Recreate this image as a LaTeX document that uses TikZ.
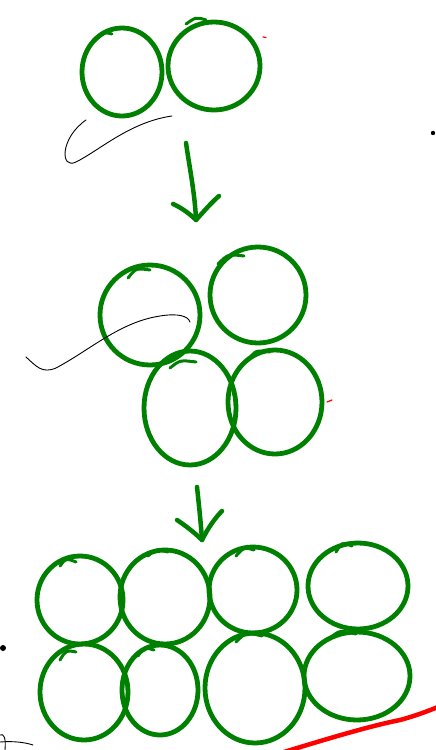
\documentclass[tikz,border=0pt]{standalone}
\definecolor{pen}{RGB}{0,128,0}
\definecolor{redpen}{RGB}{255,0,0}
\tikzset{
  bubble/.style={draw=pen, line width=4.8pt, line cap=round, line join=round},
  hook/.style={draw=pen, line width=3pt, line cap=round},
  thin/.style={draw=black, line width=0.9pt, line cap=round},
  arrowline/.style={draw=pen, line width=4.5pt, line cap=round, line join=round},
  redline/.style={draw=redpen, line width=4.5pt, line cap=round},
  reddot/.style={draw=redpen, line width=1.2pt, line cap=round}
}
\begin{document}
\begin{tikzpicture}[x=1pt,y=-1pt]
\useasboundingbox (0,0) rectangle (436,750);
% top pair
\draw[bubble] (122,72) ellipse [x radius=40pt, y radius=44pt];
\draw[bubble] (214,66) ellipse [x radius=46pt, y radius=44pt];
\draw[hook] (98,38) .. controls (104,32) .. (112,34);
\draw[hook] (186,24) .. controls (196,17) .. (206,20);
\draw[thin] (172,116) .. controls (130,122) and (100,150) .. (76,162) .. controls (60,170) and (60,138) .. (86,120);
% arrow 1
\draw[arrowline] (186,143) .. controls (190,170) and (195,195) .. (196,220);
\draw[arrowline] (173,204) .. controls (182,208) and (190,214) .. (196,220) .. controls (205,210) and (212,202) .. (219,196);
% middle group
\draw[bubble] (150,315) ellipse [x radius=50pt, y radius=50pt];
\draw[bubble] (258,295) ellipse [x radius=48pt, y radius=48pt];
\draw[bubble] (190,408) ellipse [x radius=46pt, y radius=57pt];
\draw[bubble] (275,402) ellipse [x radius=47pt, y radius=52pt];
\draw[hook] (128,278) .. controls (136,268) .. (150,270);
\draw[hook] (218,264) .. controls (228,254) .. (244,256);
\draw[hook] (170,368) .. controls (180,360) .. (196,362);
\draw[hook] (248,360) .. controls (256,350) .. (270,352);
\draw[thin] (26,357) .. controls (36,366) and (42,374) .. (56,368) .. controls (90,350) and (120,322) .. (160,316) .. controls (178,313) and (188,316) .. (190,322);
% arrow 2
\draw[arrowline] (197,487) .. controls (199,505) and (201,525) .. (202,540);
\draw[arrowline] (177,520) .. controls (186,526) and (195,533) .. (202,540) .. controls (208,528) and (215,518) .. (222,511);
% bottom group, row 1
\draw[bubble] (80,600) ellipse [x radius=43pt, y radius=44pt];
\draw[bubble] (165,597) ellipse [x radius=45pt, y radius=47pt];
\draw[bubble] (253,590) ellipse [x radius=44pt, y radius=43pt];
\draw[bubble] (358,586) ellipse [x radius=50pt, y radius=43pt];
\draw[hook] (60,566) .. controls (66,558) .. (76,562);
\draw[hook] (148,556) .. controls (156,549) .. (168,552);
\draw[hook] (236,556) .. controls (244,547) .. (254,550);
\draw[hook] (336,552) .. controls (342,542) .. (352,546);
% row 2
\draw[bubble] (84,692) ellipse [x radius=44pt, y radius=48pt];
\draw[bubble] (160,690) ellipse [x radius=38pt, y radius=45pt];
\draw[bubble] (255,688) ellipse [x radius=50pt, y radius=55pt];
\draw[bubble] (357,676) ellipse [x radius=53pt, y radius=44pt];
\draw[hook] (60,660) .. controls (66,650) .. (76,652);
\draw[hook] (138,656) .. controls (144,647) .. (154,650);
\draw[hook] (236,642) .. controls (246,632) .. (262,636);
\draw[hook] (330,638) .. controls (340,630) .. (356,634);
% red stroke
\draw[redline] (284,752) .. controls (330,738) and (370,726) .. (400,720) .. controls (415,716) and (428,711) .. (438,707);
% stray marks
\fill[black] (433,133) circle [radius=2.2pt];
\fill[black] (3,648) circle [radius=3pt];
\draw[reddot] (263,37) -- (266,37.5);
\draw[reddot] (327,402) -- (332,400);
\draw[thin] (0,742) .. controls (12,741) and (24,742) .. (33,745);
\draw[thin] (0,735) .. controls (4,733) and (6,738) .. (5,750);
\end{tikzpicture}
\end{document}
